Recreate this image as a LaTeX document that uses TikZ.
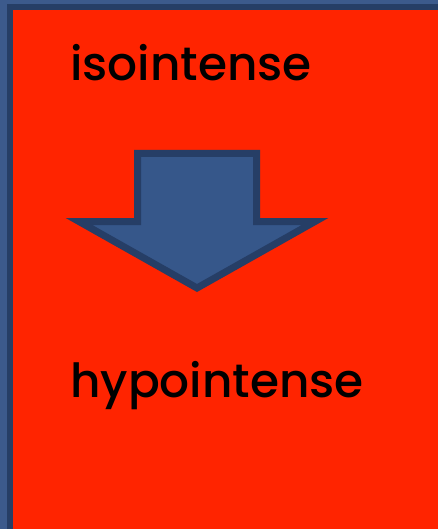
\documentclass[tikz,border=0pt]{standalone}
\usepackage{fontspec}
\setmainfont{Poppins}[BoldFont={* Medium}]
\definecolor{frameblue}{RGB}{60,90,140}
\definecolor{edgeblue}{RGB}{38,62,102}
\definecolor{arrowblue}{RGB}{54,87,138}
\definecolor{slidered}{RGB}{255,36,0}
\begin{document}
\begin{tikzpicture}[
    x=1pt, y=-1pt,
    label/.style={
        anchor=base west,
        inner sep=0pt,
        text=black,
        font=\fontsize{47}{50}\selectfont\bfseries
    },
    blockarrow/.style={
        draw=edgeblue,
        fill=arrowblue,
        line width=7pt,
        line join=miter
    }
]
\useasboundingbox (0,0) rectangle (438,529);
\clip (0,0) rectangle (438,529);

% slide background
\fill[frameblue] (0,0) rectangle (438,529);
\draw[edgeblue, fill=slidered, line width=6pt] (10,7) rectangle (450,540);

\node[label] (iso) at (70,81) {isointense};
\node[label] (hypo) at (70,397) {hypointense};

% down arrow
\draw[blockarrow] (137.5,153.5) -- (256.5,153.5) -- (256.5,221.5) -- (315,221.5)
    -- (197,288) -- (79,221.5) -- (137.5,221.5) -- cycle;
\end{tikzpicture}
\end{document}
